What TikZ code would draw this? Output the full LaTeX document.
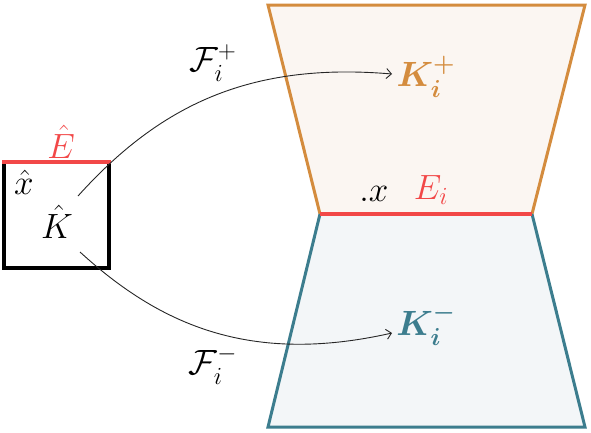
\RequirePackage{fix-cm}
\documentclass[tikz,border=0pt]{standalone}
\usepackage{amsmath,amssymb,bm}
\usetikzlibrary{arrows.meta}
\definecolor{orng}{HTML}{D48C3E}
\definecolor{orngfill}{HTML}{FBF6F2}
\definecolor{tealc}{HTML}{3C7D8E}
\definecolor{tealfill}{HTML}{F3F6F8}
\definecolor{redc}{HTML}{F24848}
\tikzset{
  lbl/.style={inner sep=0pt, font=\fontsize{27}{32}\selectfont, scale=1.3},
  arr/.style={-{Straight Barb[length=5pt,width=10pt]}, line width=0.9pt, black!85},
}
\begin{document}
\begin{tikzpicture}[x=1pt,y=-1pt]
\useasboundingbox (0,0) rectangle (591,432);
% trapezoids
\coordinate (ua) at (268,5);
\coordinate (ub) at (585,5);
\coordinate (mr) at (532,214);
\coordinate (ml) at (320,214);
\coordinate (la) at (268,427);
\coordinate (lb) at (585,427);
\fill[orngfill] (ua) -- (ub) -- (mr) -- (ml) -- cycle;
\fill[tealfill] (ml) -- (mr) -- (lb) -- (la) -- cycle;
\draw[orng, line width=3pt, line join=miter] (ml) -- (ua) -- (ub) -- (mr);
\draw[tealc, line width=3pt, line join=miter] (ml) -- (la) -- (lb) -- (mr);
\draw[redc, line width=3.5pt] (ml) -- (mr);
% square
\coordinate (sa) at (4,162);
\coordinate (sb) at (109,162);
\coordinate (sc) at (109,268);
\coordinate (sd) at (4,268);
\draw[black, line width=4pt, line join=miter] (sa) -- (sd) -- (sc) -- (sb);
\draw[redc, line width=3.5pt] ([xshift=-2pt]sa) -- ([xshift=2pt]sb);
% labels
\node[lbl, text=redc] (Eh) at (61,142) {$\hat{E}$};
\node[lbl] (xh) at (24,182) {$\hat{x}$};
\node[lbl] (Kh) at (57,222) {$\hat{K}$};
\node[lbl] (Fp) at (213,63) {$\mathcal{F}_i^{+}$};
\node[lbl] (Fm) at (213,365) {$\mathcal{F}_i^{-}$};
\node[lbl, text=orng] (Kp) at (426,77) {$\bm{K_i^{+}}$};
\node[lbl, text=tealc] (Km) at (426,325) {$\bm{K_i^{-}}$};
\node[lbl] (xx) at (374,194) {$.x$};
\node[lbl, text=redc] (Ei) at (431,190) {$E_i$};
% arrows
\coordinate (s1) at (78,196);
\coordinate (e1) at (392,74);
\coordinate (s2) at (80,252);
\coordinate (e2) at (392,333);
\draw[arr] (s1) .. controls (160,105) and (250,62) .. (e1);
\draw[arr] (s2) .. controls (160,325) and (250,365) .. (e2);
\end{tikzpicture}
\end{document}
